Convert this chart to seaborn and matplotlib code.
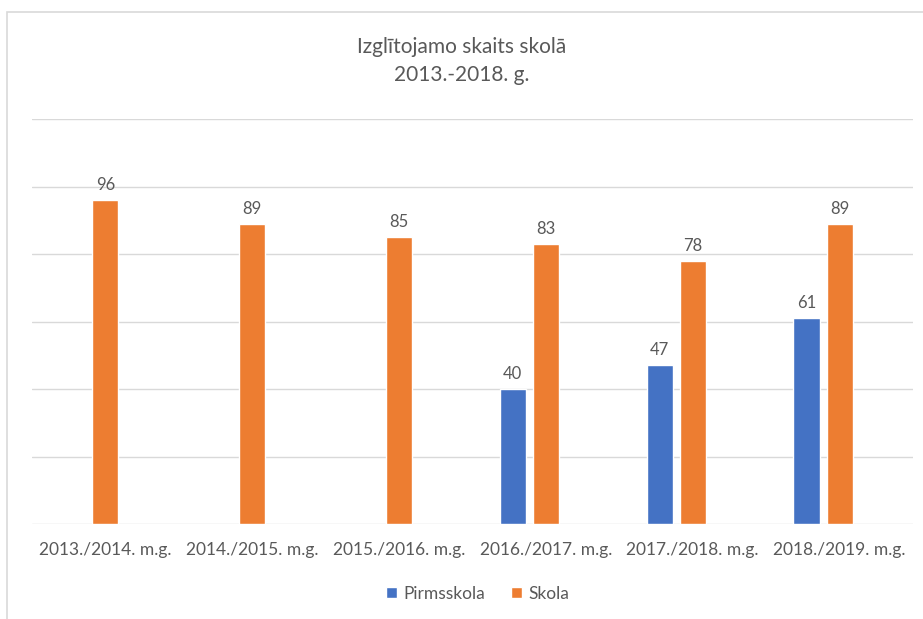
import numpy as np
import pandas as pd
import matplotlib
matplotlib.use("Agg")
import matplotlib.pyplot as plt
import seaborn as sns
from matplotlib.patches import Rectangle, Patch

# ---------------------------------------------------------
# Data
# ---------------------------------------------------------
years = ["2013./2014. m.g.", "2014./2015. m.g.", "2015./2016. m.g.",
         "2016./2017. m.g.", "2017./2018. m.g.", "2018./2019. m.g."]
pirmsskola = [np.nan, np.nan, np.nan, 40, 47, 61]
skola = [96, 89, 85, 83, 78, 89]

series = ["Pirmsskola", "Skola"]
colors = {"Pirmsskola": "#4472C4", "Skola": "#ED7D31", "_pad": "#FFFFFF"}

df = pd.DataFrame({
    "Gads": years * 2,
    "Sērija": ["Pirmsskola"] * len(years) + ["Skola"] * len(years),
    "Skaits": pirmsskola + skola,
})

# ---------------------------------------------------------
# Plot
# ---------------------------------------------------------
sns.set_theme(style="white")
plt.rcParams["font.family"] = ["Lato", "DejaVu Sans"]
text_col = "#595959"

fig = plt.figure(figsize=(9.23, 6.19), dpi=100)
fig.patches.append(Rectangle((7 / 923, -0.1), 1.1, 1 - 12 / 619 + 0.1,
                             transform=fig.transFigure, fill=False,
                             edgecolor="#D9D9D9", linewidth=1.2))
ax = fig.add_axes([32 / 923, 1 - 524 / 619, 881 / 923, 405 / 619])

# third (empty) hue level keeps the orange bar on the category centre
sns.barplot(data=df, x="Gads", y="Skaits", hue="Sērija",
            hue_order=["Pirmsskola", "Skola", "_pad"], order=years,
            palette=colors, width=0.675, gap=0.21, ax=ax, legend=False,
            saturation=1)

for cont in ax.containers:
    ax.bar_label(cont, fmt="%d", padding=5, color=text_col, fontsize=12)

ax.set_ylim(0, 120)
ax.set_xlim(-0.5, len(years) - 0.5)
ax.set_yticks(range(0, 121, 20))
ax.set_yticklabels([])
ax.yaxis.grid(True, color="#D9D9D9", linewidth=1)
ax.set_axisbelow(True)
for s in ax.spines.values():
    s.set_visible(False)
ax.tick_params(axis="x", length=0, pad=13, labelsize=12.5, colors=text_col)
ax.tick_params(axis="y", length=0)
ax.set_xlabel("")
ax.set_ylabel("")

fig.text(0.5, 1 - 47 / 619, "Izglītojamo skaits skolā", ha="center", va="center",
         fontsize=15, color=text_col)
fig.text(0.5, 1 - 75 / 619, "2013.-2018. g.", ha="center", va="center",
         fontsize=15, color=text_col)

handles = [Patch(facecolor=colors[s], label=s) for s in series]
fig.legend(handles=handles, loc="center", bbox_to_anchor=(478 / 923, 1 - 594 / 619),
           ncol=2, frameon=False, fontsize=12.5, handlelength=0.6, handleheight=0.6,
           handletextpad=0.4, columnspacing=1.5, labelcolor=text_col)

fig.savefig("out.png", dpi=100)
